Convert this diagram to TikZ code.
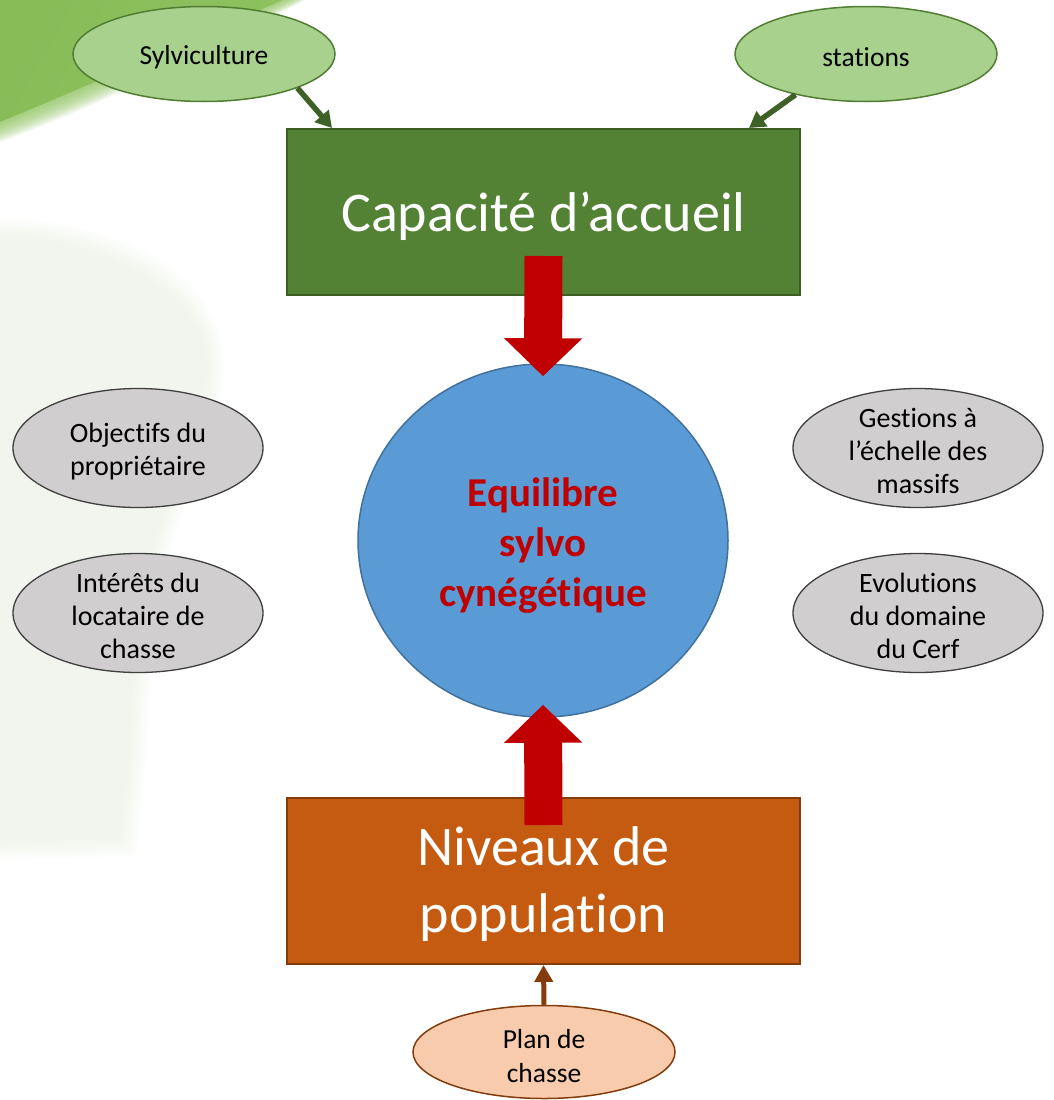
\documentclass[tikz,border=0pt]{standalone}
\usepackage{fontspec}
\setmainfont{Carlito}[Ligatures=NoCommon]
\usetikzlibrary{arrows.meta,calc,shapes.geometric}
\definecolor{swooshdark}{HTML}{6CA535}
\definecolor{swooshlight}{HTML}{93C664}
\definecolor{blobcol}{HTML}{EEF5E6}
\definecolor{lgfill}{HTML}{A9D18E}
\definecolor{lgdraw}{HTML}{507E32}
\definecolor{capfill}{HTML}{548235}
\definecolor{capdraw}{HTML}{3B5E25}
\definecolor{garr}{HTML}{3D6126}
\definecolor{redarr}{HTML}{C00000}
\definecolor{circfill}{HTML}{5B9BD5}
\definecolor{circdraw}{HTML}{41719C}
\definecolor{grayfill}{HTML}{D0CECE}
\definecolor{graydraw}{HTML}{3F3F3F}
\definecolor{nivfill}{HTML}{C55A11}
\definecolor{nivdraw}{HTML}{843C0C}
\definecolor{planfill}{HTML}{F8CBAD}
\begin{document}
\begin{tikzpicture}[x=1pt,y=-1pt,
  greenell/.style={ellipse,draw=lgdraw,line width=1.5pt,fill=lgfill,minimum width=262pt,minimum height=95pt,inner sep=0pt},
  grayell/.style={ellipse,draw=graydraw,line width=1.3pt,fill=grayfill,minimum width=250pt,minimum height=119pt,inner sep=0pt},
  smalltxt/.style={align=center,inner sep=0pt,font=\fontsize{27.5}{33}\selectfont},
  graytxt/.style={align=center,inner sep=0pt,font=\fontsize{28}{33}\selectfont},
  bigbox/.style={rectangle,line width=2pt,minimum width=513pt,minimum height=166pt,inner sep=0pt},
  bigtxt/.style={align=center,inner sep=0pt,text=white,font=\fontsize{56}{67}\selectfont},
  garrow/.style={draw=garr,line width=5.5pt,-{Triangle[width=18pt,length=16pt]}},
  redarrow/.style={draw=redarr,line width=38pt,-{Triangle[width=76pt,length=38pt]}},
  brarrow/.style={draw=nivdraw,line width=5pt,-{Triangle[width=18pt,length=17pt]}}
]
\useasboundingbox (0,0) rectangle (1053,1100);
\fill[white] (0,0) rectangle (1053,1100);
% background decorations
\foreach \k in {0,...,9}{
  \fill[blobcol,opacity=0.09] (0,{236-2*\k}) .. controls ({110+2*\k},{240-2*\k}) and ({195+2*\k},{295-2*\k}) .. ({205+2*\k},350) .. controls ({215+2*\k},420) and ({150+2*\k},520) .. ({140+2*\k},600) .. controls ({130+2*\k},700) and ({128+2*\k},790) .. ({118+2*\k},{838+2*\k}) -- (0,{842+2*\k}) -- cycle;
}
\shade[left color=swooshdark,right color=swooshlight,shading angle=60] (0,0) -- (283,0) .. controls (190,40) and (90,85) .. (0,122) -- cycle;
\foreach \k in {1,...,10}{
  \fill[swooshlight,opacity=0.14] (0,0) -- ({283+2.2*\k},0) .. controls ({190+2*\k},{40+1*\k}) and ({90+1*\k},{85+2*\k}) .. (0,{122+2*\k}) -- cycle;
}
% shapes
\node[greenell] (sylv) at (204,54) {};
\node[greenell] (stat) at (866,54) {};
\node[bigbox,fill=capfill,draw=capdraw] (cap) at (543.5,212) {};
\node[ellipse,draw=circdraw,line width=1.5pt,fill=circfill,minimum width=370pt,minimum height=353pt,inner sep=0pt] (circ) at (543,540.5) {};
\node[grayell] (obj) at (138,448) {};
\node[grayell] (int) at (138,613) {};
\node[grayell] (gest) at (918,448) {};
\node[grayell] (evol) at (918,613) {};
\node[bigbox,fill=nivfill,draw=nivdraw] (niv) at (543.5,881) {};
\node[ellipse,draw=nivdraw,line width=1.5pt,fill=planfill,minimum width=262pt,minimum height=93pt,inner sep=0pt] (plan) at (544,1052) {};
% texts
\node[smalltxt] (sylvt) at ($(sylv.center)+(0,3)$) {Sylviculture};
\node[smalltxt] (statt) at ($(stat.center)+(0,3)$) {stations};
\node[bigtxt] (capt) at ($(cap.center)+(0,4)$) {Capacité d’accueil};
\node[align=center,inner sep=0pt,text=redarr,font=\bfseries\fontsize{41}{50}\selectfont] (circt) at ($(circ.center)+(0,5)$) {Equilibre\\sylvo\\cynégétique};
\node[graytxt] (objt) at ($(obj.center)+(0,3.5)$) {Objectifs du\\propriétaire};
\node[graytxt] (intt) at ($(int.center)+(0,3)$) {Intérêts du\\locataire de\\chasse};
\node[graytxt] (gestt) at ($(gest.center)+(0,3)$) {Gestions à\\l’échelle des\\massifs};
\node[graytxt] (evolt) at ($(evol.center)+(0,3)$) {Evolutions\\du domaine\\du Cerf};
\node[bigtxt] (nivt) at ($(niv.center)+(0,3)$) {Niveaux de\\population};
\node[smalltxt,font=\fontsize{27.5}{34}\selectfont] (plant) at ($(plan.center)+(0,4)$) {Plan de\\chasse};
% connectors
\draw[garrow] (sylv.-20) -- ($(cap.north west)+(46,0)$);
\draw[garrow] (stat.210) -- ($(cap.north east)+(-52,0)$);
\draw[redarrow] ($(cap.south)+(0,-40)$) -- ($(circ.north)+(0,13)$);
\draw[redarrow] ($(niv.north)+(0,28)$) -- ($(circ.south)+(0,-13)$);
\draw[brarrow] (plan.north) -- (niv.south);
\end{tikzpicture}
\end{document}
